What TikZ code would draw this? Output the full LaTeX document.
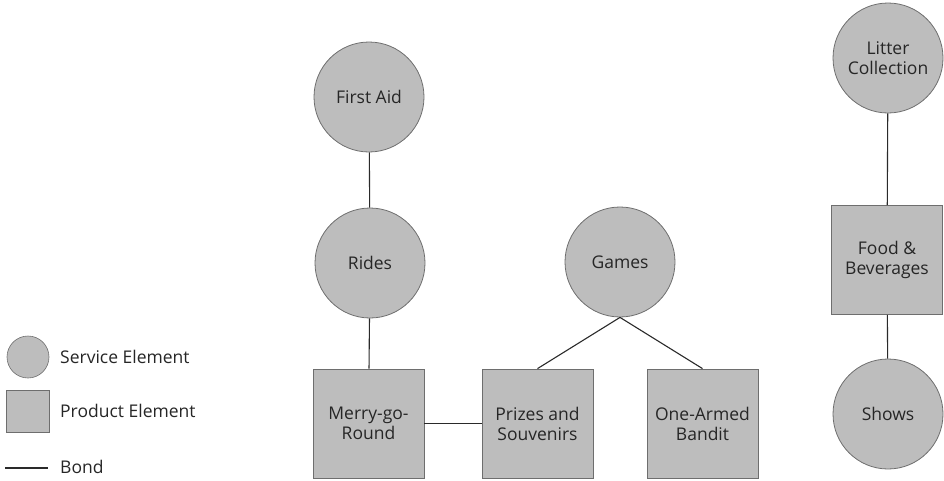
\documentclass[tikz,border=0pt]{standalone}
\usepackage{fontspec}
\setmainfont{Open Sans}
\definecolor{elemfill}{HTML}{BDBDBD}
\definecolor{elemline}{HTML}{6E6E6E}
\definecolor{bondcol}{HTML}{2A2A2A}
\begin{document}
\begin{tikzpicture}[x=1pt,y=-1pt,
  service/.style={circle,fill=elemfill,draw=elemline,line width=0.8pt,
    minimum size=110pt,inner sep=0pt,align=center,font=\fontsize{17.5}{20}\selectfont,text=black!85},
  product/.style={rectangle,fill=elemfill,draw=elemline,line width=0.8pt,
    minimum width=111pt,minimum height=109pt,inner sep=0pt,align=center,
    font=\fontsize{17.5}{20}\selectfont,text=black!85},
  legsvc/.style={circle,fill=elemfill,draw=elemline,line width=0.6pt,minimum size=42pt,inner sep=0pt},
  legprod/.style={rectangle,fill=elemfill,draw=elemline,line width=0.6pt,minimum width=43pt,minimum height=42pt,inner sep=0pt},
  legtext/.style={anchor=west,inner sep=0pt,font=\fontsize{17.5}{20}\selectfont,text=black!85},
  bond/.style={draw=bondcol,line width=1.1pt}]
\useasboundingbox (0,0) rectangle (944,480);

% service elements
\node[service] (firstaid) at (369,97) {First Aid};
\node[service] (rides) at (370,263) {Rides};
\node[service] (games) at (620,262) {Games};
\node[service] (litter) at (888,58) {Litter\\Collection};
\node[service] (shows) at (888,414) {Shows};

% product elements
\node[product] (merry) at (368.5,423.5) {Merry-go-\\Round};
\node[product] (prizes) at (537.5,423.5) {Prizes and\\Souvenirs};
\node[product] (bandit) at (702.5,423.5) {One-Armed\\Bandit};
\node[product] (food) at (887,260) {Food \&\\Beverages};

% bonds
\draw[bond] (firstaid) -- (rides);
\draw[bond] (rides) -- (merry);
\draw[bond] (merry) -- (prizes);
\draw[bond] (games.south) -- (prizes.north);
\draw[bond] (games.south) -- (bandit.north);
\draw[bond] (litter) -- (food);
\draw[bond] (food) -- (shows);

% legend
\node[legsvc] (lsvc) at (28,357) {};
\node[legtext] (lsvctext) at (60,357) {Service Element};
\node[legprod] (lprod) at (27.5,411) {};
\node[legtext] (lprodtext) at (60,411) {Product Element};
\coordinate (lbonda) at (5,468);
\coordinate (lbondb) at (48,468);
\draw[bond] (lbonda) -- (lbondb);
\node[legtext] (lbondtext) at (60,467) {Bond};
\end{tikzpicture}
\end{document}
